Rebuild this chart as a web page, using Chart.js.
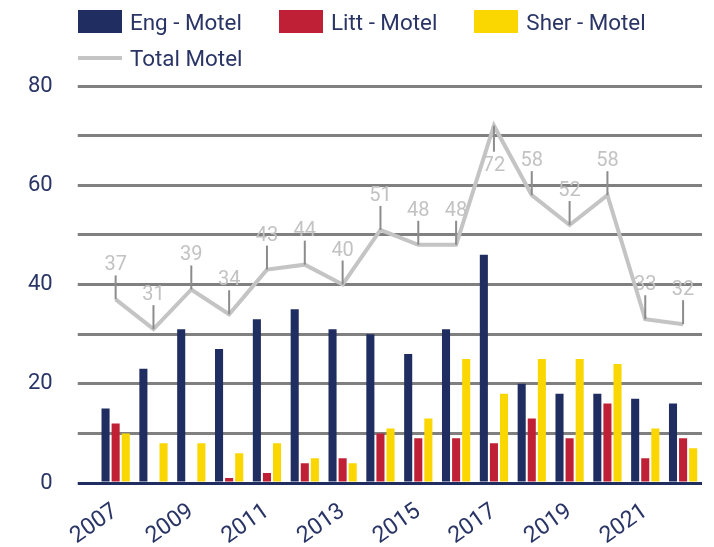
<!DOCTYPE html>
<html>
<head>
<meta charset="utf-8">
<script src="https://cdn.jsdelivr.net/npm/chart.js@4"></script>
<style>
    body { margin: 0; background: #fff; font-family: Roboto, sans-serif; }
    #contenedor { position: relative; width: 714px; height: 547px; }
    #leyenda {
        position: absolute; left: 78px; top: 10px; width: 620px;
        display: flex; flex-wrap: wrap; column-gap: 37px; row-gap: 13px;
        color: #2a3566; font-size: 22.4px;
    }
    .item { display: flex; align-items: center; height: 23px; }
    .caja { width: 44px; height: 23px; margin-right: 8px; }
    .linea { width: 44px; height: 4px; margin-right: 8px; }
</style>
</head>
<body>
<div id="contenedor">
    <canvas id="grafica"></canvas>
    <div id="leyenda"></div>
</div>
<script>
// DATOS
const anios = ['2007', '2008', '2009', '2010', '2011', '2012', '2013', '2014',
               '2015', '2016', '2017', '2018', '2019', '2020', '2021', '2022'];
const engMotel   = [15, 23, 31, 27, 33, 35, 31, 30, 26, 31, 46, 20, 18, 18, 17, 16];
const littMotel  = [12, 0, 0, 1, 2, 4, 5, 10, 9, 9, 8, 13, 9, 16, 5, 9];
const sherMotel  = [10, 8, 8, 6, 8, 5, 4, 11, 13, 25, 18, 25, 25, 24, 11, 7];
const totalMotel = [37, 31, 39, 34, 43, 44, 40, 51, 48, 48, 72, 58, 52, 58, 33, 32];
const ticksY = [0, 20, 40, 60, 80];

const AZUL = '#202d60';
const TEXTO = '#2a3566';
const GRIS_LINEA = '#c4c4c4';

// Etiquetas de la linea total con su rayita
const etiquetasTotal = {
    id: 'etiquetasTotal',
    afterDatasetsDraw(chart) {
        const meta = chart.getDatasetMeta(3);
        const ctx = chart.ctx;
        ctx.save();
        ctx.font = '20px Roboto';
        ctx.textAlign = 'center';
        ctx.textBaseline = 'alphabetic';
        meta.data.forEach((pt, i) => {
            // si no cabe arriba (el 72) se pone debajo
            const arriba = pt.y - 44 > chart.chartArea.top;
            ctx.strokeStyle = '#8c8c8c';
            ctx.lineWidth = 2;
            ctx.beginPath();
            ctx.moveTo(pt.x, pt.y);
            ctx.lineTo(pt.x, arriba ? pt.y - 24 : pt.y + 26);
            ctx.stroke();
            ctx.fillStyle = '#c2c2c2';
            ctx.fillText(totalMotel[i], pt.x, arriba ? pt.y - 29 : pt.y + 45);
        });
        ctx.restore();
    }
};

const datasets = [
    { label: 'Eng - Motel', data: engMotel, backgroundColor: AZUL },
    { label: 'Litt - Motel', data: littMotel, backgroundColor: '#c02035' },
    { label: 'Sher - Motel', data: sherMotel, backgroundColor: '#fad700' },
    {
        type: 'line', label: 'Total Motel', data: totalMotel, order: -1,
        borderColor: GRIS_LINEA, borderWidth: 4, pointRadius: 0, tension: 0
    }
];

new Chart(document.getElementById('grafica'), {
    type: 'bar',
    data: { labels: anios, datasets: datasets },
    options: {
        responsive: true,
        maintainAspectRatio: false,
        animation: false,
        layout: { padding: { left: 3, right: 12, top: 86, bottom: 0 } },
        datasets: { bar: { categoryPercentage: 0.8, barPercentage: 0.8 } },
        plugins: { legend: { display: false }, tooltip: { enabled: false } },
        scales: {
            x: {
                grid: { display: false, drawTicks: false },
                border: { display: false },
                ticks: {
                    autoSkip: false, minRotation: 35, maxRotation: 35, padding: 15,
                    color: TEXTO, font: { family: 'Roboto', size: 23 },
                    callback: (v, i) => (i % 2 === 0 ? anios[i] : '')
                },
                // que las etiquetas giradas no empujen el area del grafico
                afterFit: s => { s.paddingLeft = 0; s.paddingRight = 0; s.height = 64; }
            },
            y: {
                min: 0, max: 80,
                border: { display: false },
                grid: {
                    lineWidth: 3, tickLength: 19, tickWidth: 3,
                    color: c => (c.tick.value === 0 ? AZUL : '#808080'),
                    tickColor: c => (c.tick.value === 0 ? AZUL : '#808080')
                },
                ticks: {
                    stepSize: 10, padding: 25,
                    color: TEXTO, font: { family: 'Roboto', size: 22 },
                    callback: v => (ticksY.includes(v) ? v : '')
                }
            }
        }
    },
    plugins: [etiquetasTotal]
});

// Leyenda en HTML
const leyenda = document.getElementById('leyenda');
datasets.forEach(ds => {
    const item = document.createElement('div');
    item.className = 'item';
    const muestra = document.createElement('span');
    if (ds.type === 'line') {
        muestra.className = 'linea';
        muestra.style.background = ds.borderColor;
    } else {
        muestra.className = 'caja';
        muestra.style.background = ds.backgroundColor;
    }
    const txt = document.createElement('span');
    txt.innerText = ds.label;
    item.appendChild(muestra);
    item.appendChild(txt);
    leyenda.appendChild(item);
});
</script>
</body>
</html>
